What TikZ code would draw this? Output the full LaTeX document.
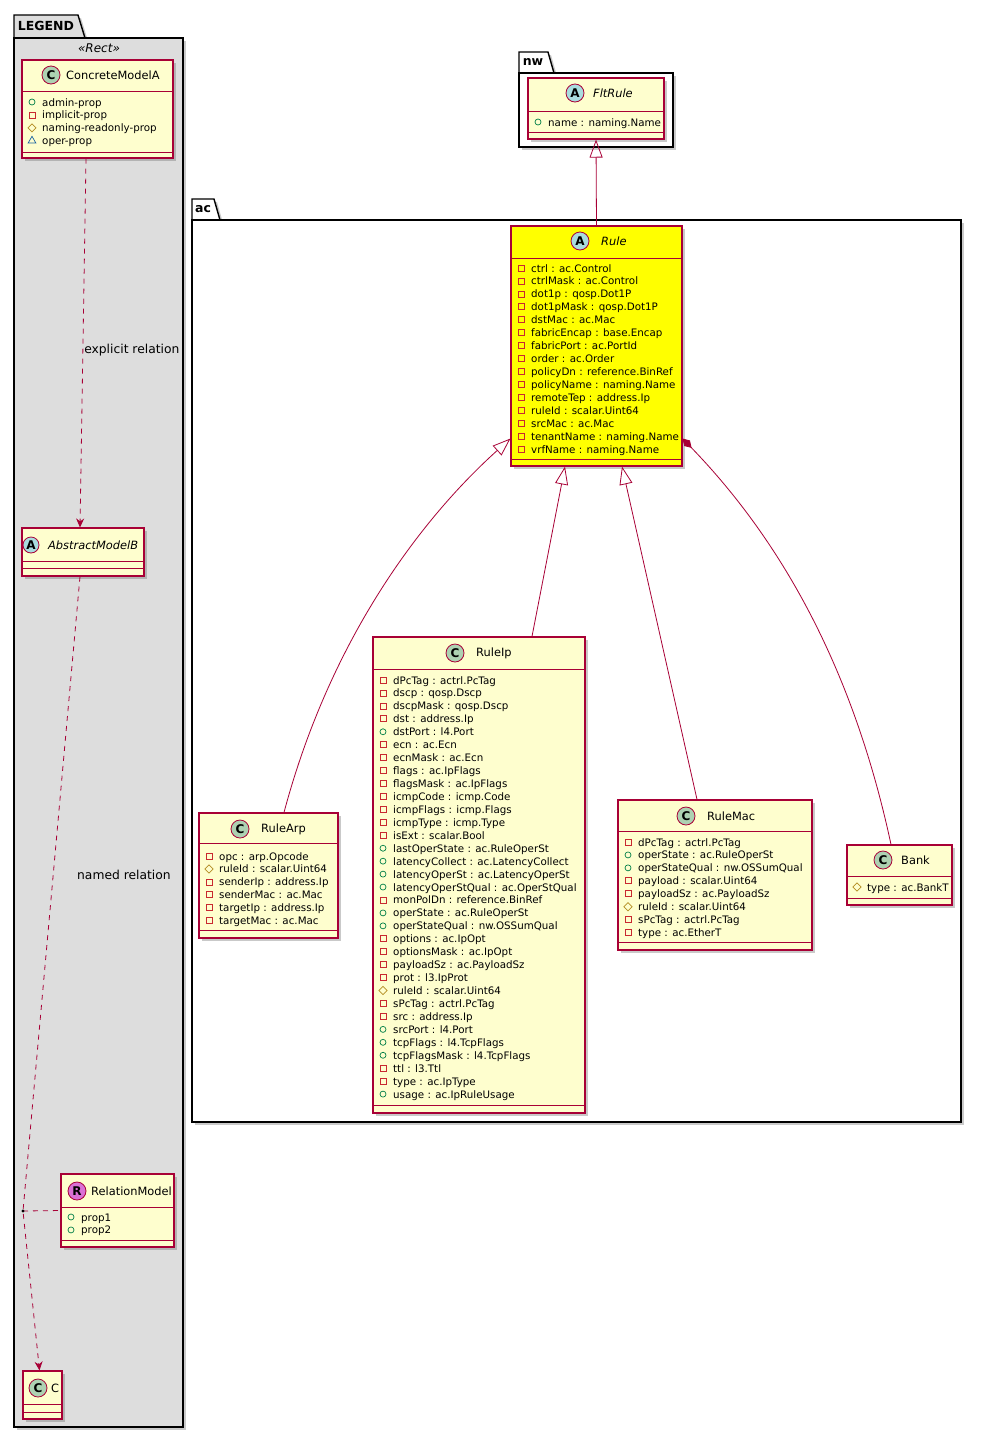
\documentclass[tikz,border=0pt]{standalone}
\usepackage{fontspec}
\setmainfont{DejaVu Sans}
\usetikzlibrary{arrows.meta,shapes.geometric,shadows}

\definecolor{umlred}{HTML}{A80036}
\definecolor{umlfill}{HTML}{FEFECE}
\definecolor{ruleyellow}{HTML}{FFFF00}
\definecolor{legendgray}{HTML}{DDDDDD}
\definecolor{spotC}{HTML}{ADD1B2}
\definecolor{spotA}{HTML}{A9DCDF}
\definecolor{spotR}{HTML}{DA70D6}
\definecolor{vispubc}{HTML}{038048}
\definecolor{visprivc}{HTML}{C82930}
\definecolor{visprotc}{HTML}{B38D22}
\definecolor{vispkgc}{HTML}{1963A0}

\tikzset{
	cls/.style={draw=umlred, line width=1.1pt, inner sep=0,
		drop shadow={shadow xshift=3pt, shadow yshift=-3pt, opacity=.35, fill=black!60}},
	cline/.style={draw=umlred, line width=.9pt},
	spot/.style={circle, draw=umlred, line width=.8pt, minimum size=18pt, inner sep=0,
		font=\fontsize{12}{12}\selectfont\bfseries},
	cname/.style={anchor=west, inner sep=0, font=\fontsize{11.4}{13}\selectfont},
	mem/.style={anchor=west, inner sep=0, text height=10pt, text depth=2pt,
		font=\fontsize{10.3}{12}\selectfont},
	vpub/.style={circle, draw=vispubc, line width=.7pt, minimum size=6pt, inner sep=0},
	vpriv/.style={rectangle, draw=visprivc, line width=.7pt, minimum size=6pt, inner sep=0},
	vprot/.style={diamond, draw=visprotc, line width=.7pt, minimum size=8.5pt, inner sep=0},
	vpkg/.style={regular polygon, regular polygon sides=3, draw=vispkgc, line width=.7pt,
		minimum size=9pt, inner sep=0},
	pkg/.style={draw=black, line width=1.4pt, inner sep=0,
		drop shadow={shadow xshift=3pt, shadow yshift=-3pt, opacity=.35, fill=black!60}},
	pkgname/.style={inner sep=0, font=\fontsize{12.5}{13}\selectfont\bfseries},
	lbl/.style={anchor=west, inner sep=0, font=\fontsize{12.3}{14}\selectfont},
	ext/.style={draw=umlred, line width=.8pt, -{Triangle[open, length=18pt, width=13pt]}},
	dep/.style={draw=umlred, line width=.8pt, dash pattern=on 5pt off 5pt,
		-{Stealth[length=9pt, width=8pt, inset=3pt]}},
	tie/.style={draw=umlred, line width=.8pt, dash pattern=on 5pt off 5pt},
	comp/.style={draw=umlred, line width=.8pt, -{Diamond[length=13pt, width=8pt]}},
}

% 类框: [填充] 名字 左 上 右 下 表头线 方法线
\newcommand\umlclass[8][umlfill]{%
	\node[cls, fill=#1, minimum width={#5-#3}, minimum height={#6-#4}] (#2) at ({(#3+#5)/2},{(#4+#6)/2}) {};
	\draw[cline] (#3,#7) -- (#5,#7) (#3,#8) -- (#5,#8);
}
% 属性列表: 前缀 左 首行y 列表
\newcommand\umlmembers[4]{%
	\foreach \vis/\txt [count=\i] in {#4} {
		\node[\vis] (#1-v\i) at ({#2+10},{#3+12.94*(\i-1)}) {};
		\node[mem] (#1-m\i) at ({#2+20},{#3+12.94*(\i-1)}) {\txt};
	}
}

\begin{document}
\begin{tikzpicture}[x=1pt, y=-1pt]
		\useasboundingbox (0,0) rectangle (981,1438);

		% 画三个包
		\draw[pkg, fill=legendgray] (14,38) -- (14,15) -- (78,15) -- (85,38) -- cycle;
		\node[pkg, fill=legendgray, minimum width=169, minimum height=1389] (legend) at (98.5,732.5) {};
		\node[pkgname] (legend-t) at (46,26) {LEGEND};
		\node[inner sep=0, font=\fontsize{12}{13}\selectfont\itshape] (legend-st) at (99,48) {«Rect»};

		\draw[pkg, fill=white] (519,73) -- (519,52) -- (548,52) -- (554,73) -- cycle;
		\node[pkg, fill=white, minimum width=154, minimum height=74] (nw) at (596,110) {};
		\node[pkgname] (nw-t) at (533,62) {nw};

		\draw[pkg, fill=white] (192,220) -- (192,199) -- (214,199) -- (220,220) -- cycle;
		\node[pkg, fill=white, minimum width=769, minimum height=902] (ac) at (576.5,671) {};
		\node[pkgname] (ac-t) at (203,209) {ac};

		% 图例里的类
		\umlclass{concretea}{22}{60}{173}{158}{91}{152}
		\node[spot, fill=spotC] (concretea-s) at (51,75) {C};
		\node[cname] (concretea-n) at (66,75) {ConcreteModelA};
		\umlmembers{concretea}{22}{102}{vpub/admin-prop,vpriv/implicit-prop,
			vprot/naming-readonly-prop,vpkg/oper-prop}

		\umlclass{abstractb}{22}{528}{144}{576}{561}{568}
		\node[spot, fill=spotA, minimum size=16pt] (abstractb-s) at (31,545) {A};
		\node[cname, font=\fontsize{11.4}{13}\selectfont\itshape] (abstractb-n) at (48,545) {AbstractModelB};

		\umlclass{relmodel}{61}{1174}{174}{1247}{1207}{1240}
		\node[spot, fill=spotR] (relmodel-s) at (77,1191) {R};
		\node[cname] (relmodel-n) at (91,1191) {RelationModel};
		\umlmembers{relmodel}{61}{1217}{vpub/prop1,vpub/prop2}

		\umlclass{cmodel}{23}{1371}{62}{1419}{1404}{1412}
		\node[spot, fill=spotC] (cmodel-s) at (38,1388) {C};
		\node[cname] (cmodel-n) at (51,1388) {C};

		% 图例里的关系
		\draw[dep] ([xshift=-11.5pt]concretea.south) -- node[lbl, pos=.52, xshift=1pt] (lbl-explicit) {explicit relation} ([xshift=-3pt]abstractb.north);
		\coordinate (reldot) at (23,1211);
		\draw[dep] ([xshift=-3pt]abstractb.south) -- (reldot) -- ([xshift=-3pt]cmodel.north);
		\node[lbl] (lbl-named) at (77,875) {named relation};
		\draw[tie] (reldot) -- (relmodel.west);
		\fill (reldot) circle[radius=1.6pt];

		% nw 包
		\umlclass{fltrule}{528}{78}{664}{139}{111}{132}
		\node[spot, fill=spotA] (fltrule-s) at (575,93) {A};
		\node[cname, font=\fontsize{11.4}{13}\selectfont\itshape] (fltrule-n) at (593,93) {FltRule};
		\umlmembers{fltrule}{528}{122}{vpub/name : naming.Name}

		% ac 包
		\umlclass[ruleyellow]{rule}{511}{226}{682}{466}{258}{459}
		\node[spot, fill=spotA] (rule-s) at (580,241) {A};
		\node[cname, font=\fontsize{11.4}{13}\selectfont\itshape] (rule-n) at (601,241) {Rule};
		\umlmembers{rule}{511}{268}{vpriv/ctrl : ac.Control,vpriv/ctrlMask : ac.Control,
			vpriv/dot1p : qosp.Dot1P,vpriv/dot1pMask : qosp.Dot1P,vpriv/dstMac : ac.Mac,
			vpriv/fabricEncap : base.Encap,vpriv/fabricPort : ac.PortId,vpriv/order : ac.Order,
			vpriv/policyDn : reference.BinRef,vpriv/policyName : naming.Name,
			vpriv/remoteTep : address.Ip,vpriv/ruleId : scalar.Uint64,vpriv/srcMac : ac.Mac,
			vpriv/tenantName : naming.Name,vpriv/vrfName : naming.Name}

		\umlclass{rulearp}{199}{813}{338}{938}{843}{930}
		\node[spot, fill=spotC] (rulearp-s) at (240,829) {C};
		\node[cname] (rulearp-n) at (261,829) {RuleArp};
		\umlmembers{rulearp}{199}{856}{vpriv/opc : arp.Opcode,vprot/ruleId : scalar.Uint64,
			vpriv/senderIp : address.Ip,vpriv/senderMac : ac.Mac,vpriv/targetIp : address.Ip,
			vpriv/targetMac : ac.Mac}

		\umlclass{ruleip}{373}{637}{585}{1113}{669}{1105}
		\node[spot, fill=spotC] (ruleip-s) at (455,653) {C};
		\node[cname] (ruleip-n) at (476,653) {RuleIp};
		\umlmembers{ruleip}{373}{680}{vpriv/dPcTag : actrl.PcTag,vpriv/dscp : qosp.Dscp,
			vpriv/dscpMask : qosp.Dscp,vpriv/dst : address.Ip,vpub/dstPort : l4.Port,
			vpriv/ecn : ac.Ecn,vpriv/ecnMask : ac.Ecn,vpriv/flags : ac.IpFlags,
			vpriv/flagsMask : ac.IpFlags,vpriv/icmpCode : icmp.Code,vpriv/icmpFlags : icmp.Flags,
			vpriv/icmpType : icmp.Type,vpriv/isExt : scalar.Bool,vpub/lastOperState : ac.RuleOperSt,
			vpub/latencyCollect : ac.LatencyCollect,vpub/latencyOperSt : ac.LatencyOperSt,
			vpub/latencyOperStQual : ac.OperStQual,vpriv/monPolDn : reference.BinRef,
			vpub/operState : ac.RuleOperSt,vpub/operStateQual : nw.OSSumQual,
			vpriv/options : ac.IpOpt,vpriv/optionsMask : ac.IpOpt,vpriv/payloadSz : ac.PayloadSz,
			vpriv/prot : l3.IpProt,vprot/ruleId : scalar.Uint64,vpriv/sPcTag : actrl.PcTag,
			vpriv/src : address.Ip,vpub/srcPort : l4.Port,vpub/tcpFlags : l4.TcpFlags,
			vpub/tcpFlagsMask : l4.TcpFlags,vpriv/ttl : l3.Ttl,vpriv/type : ac.IpType,
			vpub/usage : ac.IpRuleUsage}

		\umlclass{rulemac}{618}{800}{812}{950}{831}{942}
		\node[spot, fill=spotC] (rulemac-s) at (686,816) {C};
		\node[cname] (rulemac-n) at (707,816) {RuleMac};
		\umlmembers{rulemac}{618}{842}{vpriv/dPcTag : actrl.PcTag,vpub/operState : ac.RuleOperSt,
			vpub/operStateQual : nw.OSSumQual,vpriv/payload : scalar.Uint64,
			vpriv/payloadSz : ac.PayloadSz,vprot/ruleId : scalar.Uint64,
			vpriv/sPcTag : actrl.PcTag,vpriv/type : ac.EtherT}

		\umlclass{bank}{847}{845}{952}{905}{876}{898}
		\node[spot, fill=spotC] (bank-s) at (883,860) {C};
		\node[cname] (bank-n) at (901,860) {Bank};
		\umlmembers{bank}{847}{887}{vprot/type : ac.BankT}

		% 继承与组合
		\draw[ext] (rule.north) -- (fltrule.south);
		\draw[ext] ([xshift=15.5pt]rulearp.north) .. controls (330,640) and (420,520) .. ([yshift=28pt]rule.south west);
		\draw[ext] ([xshift=53pt]ruleip.north) -- ([xshift=-31.5pt]rule.south);
		\draw[ext] ([xshift=-18pt]rulemac.north) -- ([xshift=25.5pt]rule.south);
		\draw[comp] ([xshift=-8.5pt]bank.north) .. controls (860,700) and (800,560) .. ([yshift=28pt]rule.south east);
	\end{tikzpicture}
\end{document}
